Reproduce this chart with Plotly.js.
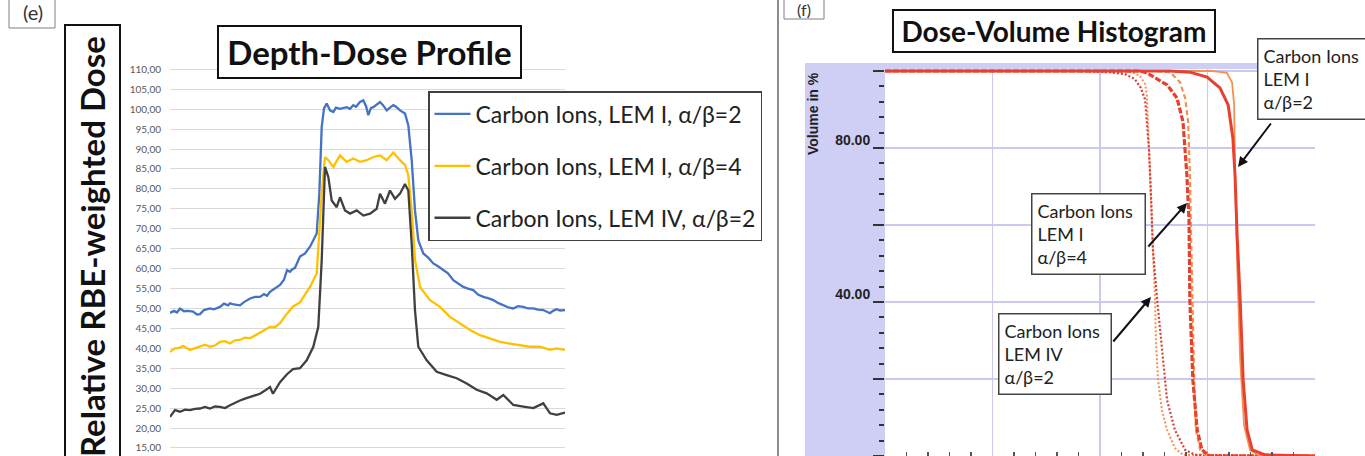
<!DOCTYPE html>
<html><head><meta charset="utf-8">
<script src="https://cdn.plot.ly/plotly-3.0.1.min.js"></script>
<style>html,body{margin:0;padding:0;background:#fff}#chart{width:1365px;height:456px}</style>
</head><body><div id="chart"></div>
<script>
// ---------- Panel (e): Depth-Dose Profile ----------
const seriesNames = ["Carbon Ions, LEM I, α/β=2", "Carbon Ions, LEM I, α/β=4", "Carbon Ions, LEM IV, α/β=2"];
const blueDepth = [0,4,7,10,14,18,23,27,30,34,40,44,50,54,58,60,64,70,74,80,85,90,94,97,100,104,110,114,117,120,122,125,130,135,140,146.7,149.3,151.7,154,156.7,160,163.3,166,170,176.7,180,183.3,186,190,193.3,196,198.3,201,203.3,207,210,213,216.7,220,223.3,226,230,235,238.3,241.7,245,248.3,253.3,258,263.3,268,273.3,278,283.3,288,293.3,298,303.3,308,313.3,318,323.3,328,333.3,338,343.3,348,353.3,358,363.3,368,373.3,377,380,383,386.7,390,395];
const blueDose = [48.9,49.4,49.0,50.0,49.3,49.4,49.2,48.5,48.6,49.6,50.0,49.8,50.4,51.2,50.8,51.3,51.0,50.8,51.6,52.5,52.9,52.9,53.6,53.2,54.2,54.8,55.9,57.2,59.6,59.2,59.8,60.2,63.0,63.8,65.5,68.8,78.8,95.5,100.2,101.4,99.7,99.3,100.4,100.1,100.5,100.1,101.0,100.6,101.8,102.2,100.8,98.5,100.3,100.5,101.2,101.8,101.0,99.7,100.4,101.0,100.6,99.7,98.9,96.0,87.2,74.6,67.1,63.8,62.8,61.3,60.6,59.6,58.8,57.1,56.2,55.4,55.0,54.6,53.5,52.9,52.6,52.1,51.4,50.8,50.3,50.0,50.6,50.4,50.0,50.0,49.7,49.6,49.2,48.8,49.4,49.8,49.5,49.6];
const goldDepth = [0,5,10,13,20,25,30,35,40,45,50,55,60,65,70,75,80,85,90,95,100,105,110,117,123,130,140,146.7,151.7,155,158.3,163.3,170,176.7,183.3,190,196.7,203.3,210,216.7,223.3,230,235,238.3,241.7,245,250,260,270,280,290,300,310,320,330,340,350,360,370,380,386.7,395];
const goldDose = [39.1,40.0,40.2,40.6,39.6,40.0,40.4,40.9,40.4,40.7,41.6,41.8,41.2,42.0,42.1,42.7,42.5,43.2,43.8,44.5,45.4,45.3,46.3,48.7,50.5,51.5,55.4,58.8,78.8,88.0,87.2,85.5,88.4,86.8,87.6,86.8,87.2,88.0,88.4,87.2,89.1,87.2,86.0,83.4,74.7,62.2,55.4,52.1,50.4,47.9,46.2,44.6,43.3,42.4,41.6,41.2,40.8,40.4,40.4,39.6,40.0,39.6];
const grayDepth = [0,5,10,15,20,25,30,35,40,45,50,55,60,65,70,75,80,85,90,95,100,103,110,117,123,130,136.7,143.3,148.3,151.7,155,158.3,161.7,166.7,170,175,180,186.7,193.3,200,206.7,210,215,220,225,230,235,238.3,241.7,245,248.3,256.7,266.7,276.7,286.7,296.7,306.7,316.7,326.7,333.3,343.3,353.3,363.3,373.3,380,386.7,395];
const grayDose = [22.8,24.5,24.1,24.6,24.5,24.8,24.9,25.3,24.9,25.4,25.3,25.0,25.7,26.4,26.9,27.4,27.8,28.3,28.6,29.4,30.3,28.6,31.5,33.5,34.8,35.0,37.0,40.4,45.4,62.1,85.5,83.0,77.1,75.4,77.9,74.6,73.8,74.6,73.3,73.8,75.0,78.8,76.3,79.6,77.5,78.8,81.2,79.6,66.2,49.5,40.4,37.0,34.1,33.3,32.5,31.2,29.6,28.7,27.1,28.3,25.8,25.4,25.0,26.2,23.7,23.3,23.9];
const doseTickVals = [15,20,25,30,35,40,45,50,55,60,65,70,75,80,85,90,95,100,105,110];
const doseTickText = ["15,00","20,00","25,00","30,00","35,00","40,00","45,00","50,00","55,00","60,00","65,00","70,00","75,00","80,00","85,00","90,00","95,00","100,00","105,00","110,00"];

// ---------- Panel (f): Dose-Volume Histogram ----------
const dvhRedSolidDose   = [0,66.3,70.9,74.9,77.9,79.8,80.9,81.4,81.9,82.6,83.3,84.2,85.4,88.4,100];
const dvhRedSolidVol    = [100,100,99.7,98.4,95.6,91.2,82.6,73.0,57.0,40.5,19.7,6.8,1.6,0.3,0];
const dvhOrangeSolidDose= [0,73.3,76.3,79.5,80.7,81.2,81.4,81.9,82.6,83.5,84.9,87.2,100];
const dvhOrangeSolidVol = [100,100,100,99.5,97.1,91.2,73.0,50.0,25.0,8.0,1.5,0,0];
const dvhRedDashDose    = [0,59.3,60.9,63.5,65.6,67.9,69.3,70.2,70.7,70.9,71.6,72.6,73.7,75.6,100];
const dvhRedDashVol     = [100,100,99.5,97.9,96.4,93.0,86.8,73.0,61.3,40.5,19.7,6.8,1.6,0,0];
const dvhOrangeDashDose = [0,62.8,66.3,68.6,69.8,70.5,70.9,71.2,71.4,71.9,72.3,73.3,74.7,100];
const dvhOrangeDashVol  = [100,100,99.7,97.1,93.0,86.8,73.0,55.0,40.5,19.7,6.8,1.6,0,0];
const dvhRedDotDose     = [0,45.3,52.3,55.8,58.1,59.5,60.5,61.4,61.9,62.3,63.3,64.4,65.6,67.4,69.8,72.1,100];
const dvhRedDotVol      = [100,100,99.7,99.2,97.9,95.6,92.5,79.5,66.5,53.5,40.5,27.5,14.5,6.8,1.6,0.3,0];
const dvhOrangeDotDose  = [0,54.7,57.4,59.3,60.5,60.9,61.4,61.9,62.3,62.8,63.0,63.5,64.4,65.6,67.4,69.3,100];
const dvhOrangeDotVol   = [100,100,99.7,98.7,96.6,93.8,79.5,66.5,53.5,40.5,30.1,19.7,11.9,6.8,2.1,0.3,0];
const volTickVals = [0,20,40,60,80,100];
const volTickText = ["","","40.00","","80.00",""];

const W = 1365, H = 456;
const fx = px => px / W;
const fy = py => 1 - py / H;

const RED = '#e8402c', ORANGE = '#f39152';
const traces = [
  {x: blueDepth, y: blueDose, name: seriesNames[0], legendgroup:'a', mode:'lines', line:{color:'#4472c4', width:2.3}, xaxis:'x', yaxis:'y'},
  {x: goldDepth, y: goldDose, name: seriesNames[1], legendgroup:'b', mode:'lines', line:{color:'#ffc000', width:2.3}, xaxis:'x', yaxis:'y'},
  {x: grayDepth, y: grayDose, name: seriesNames[2], legendgroup:'c', mode:'lines', line:{color:'#404040', width:2.3}, xaxis:'x', yaxis:'y'},
  {x: dvhOrangeDotDose, y: dvhOrangeDotVol, mode:'lines', showlegend:false, line:{color:ORANGE, width:2, dash:'2px,2px'}, xaxis:'x2', yaxis:'y2'},
  {x: dvhRedDotDose, y: dvhRedDotVol, mode:'lines', showlegend:false, line:{color:'#d8403c', width:2.2, dash:'2px,2px'}, xaxis:'x2', yaxis:'y2'},
  {x: dvhOrangeDashDose, y: dvhOrangeDashVol, mode:'lines', showlegend:false, line:{color:ORANGE, width:2.2, dash:'5px,3px'}, xaxis:'x2', yaxis:'y2'},
  {x: dvhRedDashDose, y: dvhRedDashVol, mode:'lines', showlegend:false, line:{color:RED, width:3.2, dash:'6px,2px'}, xaxis:'x2', yaxis:'y2'},
  {x: dvhOrangeSolidDose, y: dvhOrangeSolidVol, mode:'lines', showlegend:false, line:{color:ORANGE, width:1.8}, xaxis:'x2', yaxis:'y2'},
  {x: dvhRedSolidDose, y: dvhRedSolidVol, mode:'lines', showlegend:false, line:{color:RED, width:3}, xaxis:'x2', yaxis:'y2'}
];

const boxFont = {family:'Lato, sans-serif', size:18, color:'#222'};
const layout = {
  width: W, height: H,
  margin: {l:0, r:0, t:0, b:0},
  paper_bgcolor: '#ffffff', plot_bgcolor: '#ffffff',
  showlegend: true,
  legend: {x: fx(428), y: fy(91), xanchor:'left', yanchor:'top', bgcolor:'#ffffff', bordercolor:'#404040', borderwidth:1.5,
           font:{family:'Lato, sans-serif', size:23, color:'#222'}, tracegroupgap:19, traceorder:'grouped', itemwidth:36},
  xaxis: {domain:[fx(170), fx(565)], range:[0,395], showgrid:false, zeroline:false, showticklabels:false, showline:false, fixedrange:true},
  yaxis: {domain:[0, fy(60)], range:[12.99,112.33], tickvals:doseTickVals, ticktext:doseTickText, gridcolor:'#d9d9d9', gridwidth:1,
          zeroline:false, ticks:'', ticklabelstandoff:8, tickfont:{family:'Lato, sans-serif', size:10, color:'#595959'}},
  xaxis2: {domain:[fx(885), fx(1315)], range:[0,100], anchor:'y2', tick0:0, dtick:25, showgrid:true, gridcolor:'#c9c9f2', gridwidth:1.5,
           zeroline:false, showticklabels:false, ticks:'',
           minor:{ticks:'inside', ticklen:4, tickwidth:1.5, dtick:5, tick0:0, tickcolor:'#555', showgrid:false}},
  yaxis2: {domain:[0, fy(69.1)], range:[0,100.5], anchor:'x2', tickvals:volTickVals, ticktext:volTickText, showgrid:true,
           gridcolor:'#c9c9f2', gridwidth:1.5, zeroline:false, ticks:'outside', ticklen:11, tickwidth:2, tickcolor:'#333',
           ticklabelshift:-8, tickfont:{family:'Liberation Sans, Arial, sans-serif', size:14, color:'#222', weight:'bold'},
           minor:{ticks:'outside', ticklen:5, tickwidth:2, dtick:4, tick0:0, tickcolor:'#333', showgrid:false}},
  shapes: [
    {type:'rect', xref:'paper', yref:'paper', x0:fx(805), x1:fx(885), y0:0, y1:fy(63), fillcolor:'#cfcff5', line:{width:0}, layer:'below'},
    {type:'rect', xref:'paper', yref:'paper', x0:fx(885), x1:fx(1315), y0:fy(69.1), y1:fy(63), fillcolor:'#cfcff5', line:{width:0}, layer:'below'},
    {type:'rect', xref:'paper', yref:'paper', x0:fx(65), x1:fx(120), y0:fy(470), y1:fy(25), line:{color:'#111', width:2}},
    {type:'rect', xref:'paper', yref:'paper', x0:fx(9), x1:fx(55), y0:fy(28), y1:fy(-3), line:{color:'#7f7f7f', width:1}},
    {type:'rect', xref:'paper', yref:'paper', x0:fx(784), x1:fx(824), y0:fy(19), y1:fy(-3), line:{color:'#7f7f7f', width:1}},
    {type:'line', xref:'paper', yref:'paper', x0:fx(778), x1:fx(778), y0:0, y1:1, line:{color:'#666', width:1.5}}
  ],
  annotations: [
    {text:'<b>Depth-Dose Profile</b>', xref:'paper', yref:'paper', x:fx(369.5), y:fy(52), xanchor:'center', yanchor:'middle', showarrow:false,
     font:{family:'Lato, sans-serif', size:33, color:'#111'}, bgcolor:'#fff', bordercolor:'#111', borderwidth:2, borderpad:2, width:297, height:46},
    {text:'<b>Relative RBE-weighted Dose</b>', xref:'paper', yref:'paper', x:fx(92), y:fy(247), xanchor:'center', yanchor:'middle', showarrow:false,
     textangle:-90, font:{family:'Lato, sans-serif', size:33, color:'#111'}},
    {text:'(e)', xref:'paper', yref:'paper', x:fx(33), y:fy(12), xanchor:'center', yanchor:'middle', showarrow:false,
     font:{family:'Lato, sans-serif', size:20, color:'#333'}},
    {text:'(f)', xref:'paper', yref:'paper', x:fx(804), y:fy(9), xanchor:'center', yanchor:'middle', showarrow:false,
     font:{family:'Lato, sans-serif', size:16, color:'#333'}},
    {text:'<b>Dose-Volume Histogram</b>', xref:'paper', yref:'paper', x:fx(1054), y:fy(31), xanchor:'center', yanchor:'middle', showarrow:false,
     font:{family:'Lato, sans-serif', size:28, color:'#111'}, bgcolor:'#fff', bordercolor:'#111', borderwidth:2, borderpad:2, width:316, height:36},
    {text:'<b>Volume in %</b>', xref:'paper', yref:'paper', x:fx(813), y:fy(114), xanchor:'center', yanchor:'middle', showarrow:false,
     textangle:-90, font:{family:'Liberation Sans, Arial, sans-serif', size:14, color:'#222'}},
    {text:'Carbon Ions<br>LEM I<br>α/β=2', xref:'paper', yref:'paper', x:fx(1257), y:fy(79), xanchor:'left', yanchor:'middle', showarrow:false,
     align:'left', font:boxFont, bgcolor:'#fff', bordercolor:'#444', borderwidth:1.5, borderpad:5, width:100},
    {text:'Carbon Ions<br>LEM I<br>α/β=4', xref:'paper', yref:'paper', x:fx(1031), y:fy(233.5), xanchor:'left', yanchor:'middle', showarrow:false,
     align:'left', font:boxFont, bgcolor:'#fff', bordercolor:'#444', borderwidth:1.5, borderpad:5, width:102},
    {text:'Carbon Ions<br>LEM IV<br>α/β=2', xref:'paper', yref:'paper', x:fx(998), y:fy(353.5), xanchor:'left', yanchor:'middle', showarrow:false,
     align:'left', font:boxFont, bgcolor:'#fff', bordercolor:'#444', borderwidth:1.5, borderpad:5, width:101},
    {text:'', xref:'paper', yref:'paper', x:fx(1238), y:fy(167), ax:34, ay:-45, showarrow:true, arrowhead:2, arrowsize:1, arrowwidth:2, arrowcolor:'#111'},
    {text:'', xref:'paper', yref:'paper', x:fx(1187), y:fy(203), ax:-40, ay:45, showarrow:true, arrowhead:2, arrowsize:1, arrowwidth:2, arrowcolor:'#111'},
    {text:'', xref:'paper', yref:'paper', x:fx(1151), y:fy(297), ax:-39, ay:46, showarrow:true, arrowhead:2, arrowsize:1, arrowwidth:2, arrowcolor:'#111'}
  ]
};
Plotly.newPlot('chart', traces, layout, {displayModeBar:false, staticPlot:true});
</script></body></html>
